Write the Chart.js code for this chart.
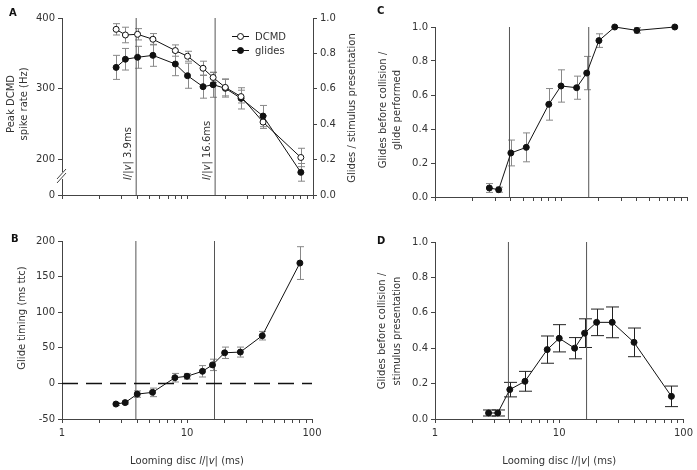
<!DOCTYPE html>
<html>
<head>
<meta charset="utf-8">
<script src="https://cdn.jsdelivr.net/npm/chart.js@4"></script>
<style>
  html, body { margin: 0; padding: 0; background: #fff; }
  #wrap { position: relative; width: 697px; height: 470px; }
  #wrap canvas { position: absolute; left: 0; top: 0; }
</style>
</head>
<body>
<div id="wrap">
  <canvas id="chartA" width="697" height="470"></canvas>
  <canvas id="chartB" width="697" height="470"></canvas>
  <canvas id="chartC" width="697" height="470"></canvas>
  <canvas id="chartD" width="697" height="470"></canvas>
</div>
<script>
// looming disc l/|v| values (ms), shared by all four panels
const disc = [2.7, 3.2, 4, 5.3, 8, 10, 13.3, 16, 20, 26.7, 40, 80];
const refLines = [3.9, 16.6];

// A: peak DCMD spike rate (Hz) and glides / stimulus presentation
const dcmdRate = [384, 376, 377, 370, 354, 346, 329, 316, 302, 289, 253, 203];
const dcmdErr = [8, 11, 8, 8, 8, 7, 10, 7, 12, 9, 9, 13];
const glideFrac = [0.721, 0.767, 0.778, 0.789, 0.740, 0.674, 0.612, 0.623, 0.603, 0.546, 0.446, 0.128];
const glideFracErr = [0.068, 0.061, 0.062, 0.062, 0.066, 0.071, 0.065, 0.071, 0.05, 0.06, 0.06, 0.05];
const rateTicks = [0, 200, 300, 400];

// B: glide timing (ms ttc)
const glideTiming = [-29, -27, -15, -12.6, 8, 10, 17, 26, 43, 44, 67, 169];
const glideTimingErr = [2, 2, 4.5, 6, 6, 4, 8, 8, 8, 7, 6, 23];

// C: glides before collision / glide performed
const beforePerGlide = [0.053, 0.043, 0.259, 0.292, 0.545, 0.653, 0.643, 0.729, 0.92, 1.0, 0.98, 1.0];
const beforePerGlideErr = [0.026, 0.015, 0.076, 0.085, 0.093, 0.095, 0.068, 0.098, 0.04, 0, 0.016, 0];

// D: glides before collision / stimulus presentation
const beforePerStim = [0.034, 0.034, 0.166, 0.213, 0.392, 0.456, 0.40, 0.485, 0.546, 0.546, 0.433, 0.128];
const beforePerStimErr = [0.017, 0.017, 0.041, 0.056, 0.077, 0.077, 0.06, 0.081, 0.075, 0.087, 0.081, 0.058];

const FONT = "'DejaVu Sans', Verdana, sans-serif";
const TXT = '#333';
const AXIS = '#444';

// left axis of A is broken: 200..400 Hz mapped onto 0.2..1.0 of the right axis
const rateToFrac = hz => hz === 0 ? 0 : 0.2 + (hz - 200) * 0.004;

const logTicks = [];
for (let d = 1; d <= 10; d *= 10) for (let k = 1; k < 10; k++) logTicks.push(d * k);
logTicks.push(100);

function pts(ys) { return disc.map((x, i) => ({ x: x, y: ys[i] })); }

function refSets(ymin, ymax) {
  return refLines.map(v => ({
    data: [{ x: v, y: ymin }, { x: v, y: ymax }],
    borderColor: '#555', borderWidth: 1, pointRadius: 0, order: 5
  }));
}

function richText(ctx, segs, x, y, align) {
  ctx.save();
  let w = 0;
  segs.forEach(s => { ctx.font = (s[1] ? 'italic ' : '') + '10px ' + FONT; w += ctx.measureText(s[0]).width; });
  let cx = align === 'center' ? x - w / 2 : x;
  ctx.textAlign = 'left';
  segs.forEach(s => {
    ctx.font = (s[1] ? 'italic ' : '') + '10px ' + FONT;
    ctx.fillText(s[0], cx, y);
    cx += ctx.measureText(s[0]).width;
  });
  ctx.restore();
}

function vText(ctx, lines, x, y) {
  // rotated title reading bottom to top, centred on (x, y)
  ctx.save();
  ctx.translate(x, y);
  ctx.rotate(-Math.PI / 2);
  ctx.fillStyle = TXT;
  ctx.font = '10px ' + FONT;
  ctx.textAlign = 'center';
  ctx.textBaseline = 'middle';
  ctx.fillText(lines, 0, 0);
  ctx.restore();
}

const discTitle = [['Looming disc ', false], ['l', true], ['/|', false], ['v', true], ['| (ms)', false]];

const errorBars = {
  id: 'errorBars',
  beforeDatasetsDraw(chart) {
    const ctx = chart.ctx;
    chart.data.datasets.forEach((ds, i) => {
      if (!ds.errors) return;
      const ys = chart.scales[ds.yAxisID || 'y'];
      const xs = chart.scales.x;
      ctx.save();
      ctx.strokeStyle = ds.errColor;
      ctx.lineWidth = 1;
      ds.data.forEach((p, j) => {
        const e = ds.errors[j];
        if (!e) return;
        const px = Math.round(xs.getPixelForValue(p.x)) + 0.5;
        const y1 = ys.getPixelForValue(p.y + e), y2 = ys.getPixelForValue(p.y - e);
        const c = ds.capHalf;
        ctx.beginPath();
        ctx.moveTo(px, y1); ctx.lineTo(px, y2);
        ctx.moveTo(px - c, y1); ctx.lineTo(px + c, y1);
        ctx.moveTo(px - c, y2); ctx.lineTo(px + c, y2);
        ctx.stroke();
      });
      ctx.restore();
    });
  }
};

function xScale(labels, height) {
  return {
    type: 'logarithmic', min: 1, max: 100,
    afterBuildTicks: s => { s.ticks = logTicks.map(v => ({ value: v })); },
    afterFit: s => { s.height = height; },
    ticks: {
      autoSkip: false, maxRotation: 0, color: TXT, padding: 4,
      font: { family: FONT, size: 10 },
      callback: v => labels && (v === 1 || v === 10 || v === 100) ? String(v) : ''
    },
    grid: { drawOnChartArea: false, tickLength: 4, color: AXIS },
    border: { display: true, color: AXIS }
  };
}

function yScale(min, max, step, fmt, pos) {
  return {
    type: 'linear', position: pos || 'left', min: min, max: max,
    afterFit: s => { s.width = 50; },
    ticks: {
      stepSize: step, color: TXT, padding: 3,
      font: { family: FONT, size: 10 },
      callback: fmt
    },
    grid: { drawOnChartArea: false, tickLength: 4, color: AXIS },
    border: { display: true, color: AXIS }
  };
}

function series(ys, errs, filled, yAxisID, errColor, capHalf) {
  return {
    data: pts(ys), errors: errs, errColor: errColor, capHalf: capHalf,
    yAxisID: yAxisID || 'y',
    borderColor: '#111', borderWidth: 1,
    pointRadius: 3, pointHoverRadius: 3, pointBorderWidth: 1,
    pointBorderColor: '#111',
    pointBackgroundColor: filled ? '#111' : '#fff',
    clip: false, order: 1
  };
}

function baseOptions(padding, scales) {
  return {
    responsive: false, animation: false, events: [],
    layout: { padding: padding },
    plugins: { legend: { display: false }, tooltip: { enabled: false } },
    scales: scales
  };
}

// ---------- A ----------
const yA = yScale(0, 1, 0.2, null);
yA.afterBuildTicks = s => { s.ticks = rateTicks.map(v => ({ value: rateToFrac(v) })); };
yA.ticks.callback = (v, i) => String(rateTicks[i]);
const y2A = yScale(0, 1, 0.2, v => v.toFixed(1), 'right');
y2A.afterFit = s => { s.width = 40; };

new Chart(document.getElementById('chartA'), {
  type: 'line',
  data: {
    datasets: [
      series(dcmdRate.map(rateToFrac), dcmdErr.map(e => e * 0.004), false, 'y', '#888', 3.5),
      series(glideFrac, glideFracErr, true, 'y2', '#888', 3.5),
      ...refSets(0, 1).map(d => Object.assign(d, { yAxisID: 'y2' }))
    ]
  },
  options: baseOptions({ left: 12, right: 344, top: 18, bottom: 265 },
    { x: xScale(false, 10), y: yA, y2: y2A }),
  plugins: [errorBars, {
    id: 'decorA',
    afterDraw(chart) {
      const ctx = chart.ctx, a = chart.chartArea, xs = chart.scales.x;
      ctx.save();
      ctx.fillStyle = '#111';
      ctx.font = 'bold 10px ' + FONT;
      ctx.fillText('A', 9, 16);
      vText(ctx, 'Peak DCMD', 11, 104);
      vText(ctx, 'spike rate (Hz)', 24, 104);
      vText(ctx, 'Glides / stimulus presentation', 352, 108);
      // axis break
      ctx.fillStyle = '#fff';
      ctx.fillRect(a.left - 1, 172, 3, 7);
      ctx.strokeStyle = AXIS; ctx.lineWidth = 1;
      ctx.beginPath();
      ctx.moveTo(57, 179); ctx.lineTo(66, 169);
      ctx.moveTo(57, 183); ctx.lineTo(66, 173);
      ctx.stroke();
      // labels along the reference lines
      ctx.fillStyle = TXT;
      refLines.forEach(v => {
        const px = xs.getPixelForValue(v);
        ctx.save();
        ctx.translate(px - 3, 180);
        ctx.rotate(-Math.PI / 2);
        ctx.textBaseline = 'bottom';
        richText(ctx, [['l', true], ['/|', false], ['v', true], ['| ' + v + 'ms', false]], 0, 0, 'left');
        ctx.restore();
      });
      // legend
      [['DCMD', '#fff', 36], ['glides', '#111', 50]].forEach(l => {
        ctx.strokeStyle = '#111'; ctx.lineWidth = 1;
        ctx.beginPath(); ctx.moveTo(232, l[2] + 0.5); ctx.lineTo(249, l[2] + 0.5); ctx.stroke();
        ctx.beginPath(); ctx.arc(240.5, l[2] + 0.5, 3, 0, Math.PI * 2);
        ctx.fillStyle = l[1]; ctx.fill(); ctx.stroke();
        ctx.fillStyle = TXT; ctx.font = '10px ' + FONT;
        ctx.textBaseline = 'middle'; ctx.fillText(l[0], 255, l[2] + 1);
      });
      ctx.restore();
    }
  }]
});

// ---------- B ----------
new Chart(document.getElementById('chartB'), {
  type: 'line',
  data: {
    datasets: [
      series(glideTiming, glideTimingErr, true, 'y', '#888', 3.5),
      { data: [{ x: 1, y: 0 }, { x: 100, y: 0 }], borderColor: '#111', borderWidth: 1.5,
        borderDash: [16, 8], pointRadius: 0, order: 4 },
      ...refSets(-50, 200)
    ]
  },
  options: baseOptions({ left: 12, right: 385, top: 241, bottom: 21 },
    { x: xScale(true, 30), y: yScale(-50, 200, 50, v => String(v)) }),
  plugins: [errorBars, {
    id: 'decorB',
    afterDraw(chart) {
      const ctx = chart.ctx, a = chart.chartArea;
      ctx.save();
      ctx.fillStyle = '#111';
      ctx.font = 'bold 10px ' + FONT;
      ctx.fillText('B', 11, 242);
      vText(ctx, 'Glide timing (ms ttc)', 22, 318);
      ctx.fillStyle = TXT; ctx.textBaseline = 'middle';
      richText(ctx, discTitle, (a.left + a.right) / 2, 461, 'center');
      ctx.restore();
    }
  }]
});

// ---------- C ----------
new Chart(document.getElementById('chartC'), {
  type: 'line',
  data: {
    datasets: [
      series(beforePerGlide, beforePerGlideErr, true, 'y', '#888', 3.5),
      ...refSets(0, 1)
    ]
  },
  options: baseOptions({ left: 385, right: 10, top: 27, bottom: 263 },
    { x: xScale(false, 10), y: yScale(0, 1, 0.2, v => v.toFixed(1)) }),
  plugins: [errorBars, {
    id: 'decorC',
    afterDraw(chart) {
      const ctx = chart.ctx;
      ctx.save();
      ctx.fillStyle = '#111';
      ctx.font = 'bold 10px ' + FONT;
      ctx.fillText('C', 377, 14);
      vText(ctx, 'Glides before collision /', 383, 110);
      vText(ctx, 'glide performed', 397, 110);
      ctx.restore();
    }
  }]
});

// ---------- D ----------
new Chart(document.getElementById('chartD'), {
  type: 'line',
  data: {
    datasets: [
      series(beforePerStim, beforePerStimErr, true, 'y', '#222', 6.5),
      ...refSets(0, 1)
    ]
  },
  options: baseOptions({ left: 385, right: 13, top: 242, bottom: 21 },
    { x: xScale(true, 30), y: yScale(0, 1, 0.2, v => v.toFixed(1)) }),
  plugins: [errorBars, {
    id: 'decorD',
    afterDraw(chart) {
      const ctx = chart.ctx, a = chart.chartArea;
      ctx.save();
      ctx.fillStyle = '#111';
      ctx.font = 'bold 10px ' + FONT;
      ctx.fillText('D', 377, 244);
      vText(ctx, 'Glides before collision /', 382, 331);
      vText(ctx, 'stimulus presentation', 397, 331);
      ctx.fillStyle = TXT; ctx.textBaseline = 'middle';
      richText(ctx, discTitle, (a.left + a.right) / 2, 461, 'center');
      ctx.restore();
    }
  }]
});
</script>
</body>
</html>
